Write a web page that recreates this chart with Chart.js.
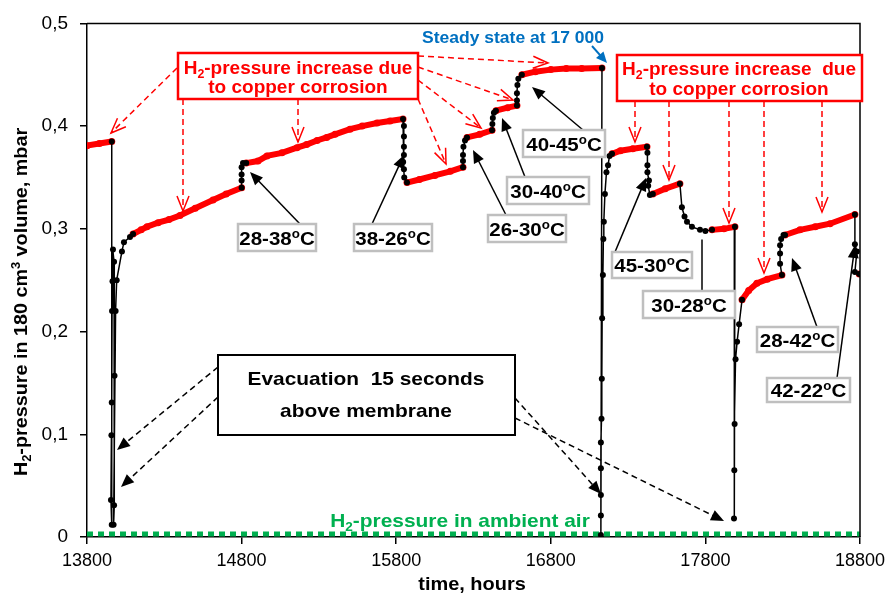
<!DOCTYPE html>
<html>
<head>
<meta charset="utf-8">
<script src="https://cdn.jsdelivr.net/npm/chart.js@4.4.1/dist/chart.umd.min.js"></script>
<style>
  html, body { margin: 0; padding: 0; background: #fff; }
  #wrap { width: 893px; height: 599px; }
</style>
</head>
<body>
<div id="wrap"><canvas id="chart" width="893" height="599"></canvas></div>
<script>
var FONT = '"Liberation Sans", Arial, sans-serif';

var xTicks = [13800, 14800, 15800, 16800, 17800, 18800];
var xTickLabels = ['13800', '14800', '15800', '16800', '17800', '18800'];
var yTicks = [0, 0.1, 0.2, 0.3, 0.4, 0.5];
var yTickLabels = ['0', '0,1', '0,2', '0,3', '0,4', '0,5'];

// red = pressure increase periods (copper corrosion), one sub-array per run
var redTime = [
  [13800, 13880, 13960],
  [14098, 14150, 14188, 14260, 14330, 14401, 14500, 14615, 14700, 14800],
  [14830, 14906, 14964, 15061, 15158, 15220, 15288, 15350, 15404, 15501, 15580, 15676, 15760, 15844],
  [15870, 15950, 16050, 16150, 16232],
  [16258, 16340, 16420],
  [16445, 16520, 16581],
  [16613, 16700, 16800, 16900, 17000, 17131],
  [17196, 17250, 17330, 17422],
  [17460, 17540, 17635],
  [17843, 17920, 17991],
  [18037, 18080, 18133, 18200, 18295],
  [18315, 18412, 18510, 18606, 18767],
  [18795]
];
var redPressure = [
  [0.381, 0.383, 0.385],
  [0.295, 0.299, 0.302, 0.306, 0.309, 0.313, 0.320, 0.328, 0.334, 0.340],
  [0.364, 0.366, 0.371, 0.374, 0.379, 0.382, 0.386, 0.389, 0.392, 0.397, 0.400, 0.403, 0.405, 0.407],
  [0.345, 0.348, 0.352, 0.356, 0.360],
  [0.389, 0.392, 0.396],
  [0.415, 0.418, 0.420],
  [0.450, 0.453, 0.455, 0.456, 0.456, 0.4565],
  [0.373, 0.376, 0.378, 0.380],
  [0.334, 0.339, 0.344],
  [0.299, 0.300, 0.302],
  [0.231, 0.240, 0.247, 0.251, 0.255],
  [0.294, 0.299, 0.302, 0.305, 0.314],
  [0.256]
];

// black = evacuations and temperature changes
var blackTime = [
  [13960, 13960, 13955, 13958, 13960, 13962, 13965, 13968, 13975, 13978, 13975, 13972, 13985, 13992, 14026, 14039, 14078, 14098],
  [14800, 14800, 14800, 14800, 14809, 14830],
  [15844, 15850, 15850, 15850, 15850, 15845, 15850, 15852, 15870],
  [16232, 16232, 16232, 16235, 16245, 16258],
  [16420, 16422, 16425, 16432, 16445],
  [16581, 16581, 16581, 16584, 16590, 16613],
  [17131, 17124, 17124, 17124, 17124, 17124, 17128, 17130, 17132, 17137, 17140, 17143, 17150, 17160, 17170, 17180, 17196],
  [17422, 17425, 17425, 17425, 17435, 17430, 17441, 17460],
  [17635, 17648, 17665, 17681, 17713, 17765, 17800, 17843],
  [17991, 17985, 17987, 17989, 17995, 18005, 18018, 18037],
  [18295, 18283, 18283, 18283, 18290, 18305, 18315],
  [18767, 18767, 18780, 18767, 18795]
];
var blackPressure = [
  [0.385, 0.012, 0.036, 0.099, 0.131, 0.22, 0.249, 0.28, 0.268, 0.157, 0.031, 0.012, 0.22, 0.25, 0.278, 0.287, 0.292, 0.295],
  [0.340, 0.347, 0.353, 0.360, 0.364, 0.364],
  [0.407, 0.400, 0.390, 0.380, 0.372, 0.365, 0.358, 0.350, 0.345],
  [0.360, 0.366, 0.372, 0.380, 0.386, 0.389],
  [0.396, 0.402, 0.408, 0.413, 0.415],
  [0.420, 0.425, 0.432, 0.440, 0.446, 0.450],
  [0.4565, 0.002, 0.021, 0.041, 0.067, 0.092, 0.115, 0.154, 0.213, 0.255, 0.29, 0.307, 0.334, 0.355, 0.362, 0.371, 0.373],
  [0.380, 0.374, 0.362, 0.355, 0.347, 0.342, 0.333, 0.334],
  [0.344, 0.321, 0.312, 0.307, 0.302, 0.299, 0.298, 0.299],
  [0.302, 0.018, 0.065, 0.110, 0.173, 0.19, 0.207, 0.231],
  [0.255, 0.266, 0.276, 0.284, 0.290, 0.294, 0.294],
  [0.314, 0.285, 0.278, 0.258, 0.256]
];

var ambientTime = [13800, 18800];
var ambientPressure = [0.003, 0.003];

// join sub-arrays with a gap point in between
function toPoints(times, values) {
  var out = [];
  times.forEach(function(seg, s) {
    if (s > 0) out.push({x: seg[0], y: null});
    seg.forEach(function(t, i) { out.push({x: t, y: values[s][i]}); });
  });
  return out;
}

function drawRich(ctx, parts, cx, base, size, color, sx) {
  ctx.save();
  ctx.translate(cx, base);
  ctx.scale(sx || 1, 1);
  var w = 0;
  parts.forEach(function(p) {
    ctx.font = 'bold ' + (p[1] ? size * 0.65 : size) + 'px ' + FONT;
    w += ctx.measureText(p[0]).width;
  });
  var x = -w / 2;
  ctx.fillStyle = color;
  ctx.textAlign = 'left';
  ctx.textBaseline = 'alphabetic';
  parts.forEach(function(p) {
    var s = p[1] ? size * 0.65 : size;
    ctx.font = 'bold ' + s + 'px ' + FONT;
    var dy = p[1] === 1 ? size * 0.22 : (p[1] === 2 ? -size * 0.36 : 0);
    ctx.fillText(p[0], x, dy);
    x += ctx.measureText(p[0]).width;
  });
  ctx.restore();
}

function arrow(ctx, x1, y1, x2, y2, o) {
  var a = Math.atan2(y2 - y1, x2 - x1);
  var L = o.head || 12, hw = o.hw || 5;
  ctx.save();
  ctx.strokeStyle = o.color;
  ctx.fillStyle = o.color;
  ctx.lineWidth = o.width || 1.5;
  ctx.setLineDash(o.dash || []);
  ctx.beginPath();
  ctx.moveTo(x1, y1);
  if (o.open) ctx.lineTo(x2, y2);
  else ctx.lineTo(x2 - Math.cos(a) * L * 0.8, y2 - Math.sin(a) * L * 0.8);
  ctx.stroke();
  ctx.setLineDash([]);
  if (o.head !== 0) {
    var bx = x2 - Math.cos(a) * L, by = y2 - Math.sin(a) * L;
    var px = -Math.sin(a) * hw, py = Math.cos(a) * hw;
    ctx.beginPath();
    ctx.moveTo(bx + px, by + py);
    ctx.lineTo(x2, y2);
    ctx.lineTo(bx - px, by - py);
    if (o.open) ctx.stroke(); else { ctx.closePath(); ctx.fill(); }
  }
  ctx.restore();
}

var RED_ARROW = {color: '#ff0000', dash: [6, 4], open: true, head: 15, hw: 6, width: 1.5};
var BLACK_ARROW = {color: '#000', head: 13, hw: 5.5, width: 1.5};
var DASH_ARROW = {color: '#000', dash: [6, 4], head: 13, hw: 5.5, width: 1.5};

var tempLabels = [
  {t: '28-38', box: [238, 224, 78, 27], from: [300, 224], to: [250, 172]},
  {t: '38-26', box: [354, 224, 78, 27], from: [372, 224], to: [404, 155]},
  {t: '26-30', box: [488, 215, 78, 27], from: [506, 215], to: [473, 150]},
  {t: '30-40', box: [507, 177, 82, 27], from: [525, 177], to: [502, 118]},
  {t: '40-45', box: [523, 130, 82, 27], from: [583, 130], to: [532, 87]},
  {t: '45-30', box: [612, 252, 80, 26], from: [615, 252], to: [646, 178]},
  {t: '30-28', box: [643, 291, 92, 27], from: [702, 291], to: [702, 230], plain: true},
  {t: '28-42', box: [757, 327, 81, 25], from: [817, 327], to: [792, 258]},
  {t: '42-22', box: [767, 378, 83, 24], from: [837, 378], to: [855, 245]}
];

var decor = {
  id: 'decor',
  afterDatasetsDraw: function(chart) {
    var ctx = chart.ctx, a = chart.chartArea;
    ctx.save();
    // frame top / right
    ctx.strokeStyle = '#000';
    ctx.lineWidth = 1.5;
    ctx.beginPath();
    ctx.moveTo(a.left, a.top);
    ctx.lineTo(a.right, a.top);
    ctx.lineTo(a.right, a.bottom);
    ctx.stroke();

    // red boxes
    ctx.strokeStyle = '#ff0000';
    ctx.lineWidth = 2.5;
    ctx.fillStyle = '#fff';
    ctx.fillRect(178, 53, 240, 46);
    ctx.strokeRect(178, 53, 240, 46);
    ctx.fillRect(617, 55, 245, 46);
    ctx.strokeRect(617, 55, 245, 46);
    drawRich(ctx, [['H', 0], ['2', 1], ['-pressure increase due', 0]], 298, 74, 19, '#ff0000');
    drawRich(ctx, [['to copper corrosion', 0]], 298, 93, 19, '#ff0000');
    drawRich(ctx, [['H', 0], ['2', 1], ['-pressure increase  due', 0]], 739, 75, 19, '#ff0000');
    drawRich(ctx, [['to copper corrosion', 0]], 739, 95, 19, '#ff0000');

    // red arrows
    [[177, 68, 111, 133], [183, 99, 183, 211], [298, 99, 298, 142],
     [418, 56, 548, 63], [418, 67, 513, 100], [418, 80, 481, 128], [418, 99, 446, 164],
     [635, 101, 635, 142], [669, 101, 669, 180], [729, 101, 729, 223],
     [764, 101, 764, 273], [822, 101, 822, 212]].forEach(function(r) {
      arrow(ctx, r[0], r[1], r[2], r[3], RED_ARROW);
    });

    // steady state
    drawRich(ctx, [['Steady state at 17 000', 0]], 513, 43, 17, '#0070c0', 1.03);
    arrow(ctx, 592, 46, 607, 63, {color: '#0070c0', head: 11, hw: 5, width: 2});

    // temperature labels
    tempLabels.forEach(function(l) {
      if (l.plain) arrow(ctx, l.from[0], l.from[1], l.to[0], l.to[1], {color: '#000', head: 0, width: 1.5});
      else arrow(ctx, l.from[0], l.from[1], l.to[0], l.to[1], BLACK_ARROW);
    });
    tempLabels.forEach(function(l) {
      var b = l.box;
      ctx.fillStyle = '#fff';
      ctx.fillRect(b[0], b[1], b[2], b[3]);
      ctx.strokeStyle = '#bfbfbf';
      ctx.lineWidth = 2.5;
      ctx.strokeRect(b[0], b[1], b[2], b[3]);
      drawRich(ctx, [[l.t, 0], ['o', 2], ['C', 0]], b[0] + b[2] / 2, b[1] + b[3] / 2 + 7, 19, '#000', 1.08);
    });

    // evacuation box
    arrow(ctx, 218, 367, 117, 450, DASH_ARROW);
    arrow(ctx, 218, 397, 121, 487, DASH_ARROW);
    arrow(ctx, 515, 398, 601, 494, DASH_ARROW);
    arrow(ctx, 515, 418, 724, 521, DASH_ARROW);
    ctx.fillStyle = '#fff';
    ctx.fillRect(218, 355, 297, 80);
    ctx.strokeStyle = '#000';
    ctx.lineWidth = 2;
    ctx.strokeRect(218, 355, 297, 80);
    drawRich(ctx, [['Evacuation  15 seconds', 0]], 366, 385, 19, '#000', 1.1);
    drawRich(ctx, [['above membrane', 0]], 366, 417, 19, '#000', 1.1);

    // ambient label
    drawRich(ctx, [['H', 0], ['2', 1], ['-pressure in ambient air', 0]], 460, 527, 19, '#00b050', 1.1);

    // axis titles
    drawRich(ctx, [['time, hours', 0]], 472, 590, 19, '#000', 1.05);
    ctx.save();
    ctx.translate(27, 302);
    ctx.rotate(-Math.PI / 2);
    drawRich(ctx, [['H', 0], ['2', 1], ['-pressure in 180 cm', 0], ['3', 2], [' volume, mbar', 0]], 0, 0, 19, '#000', 1.04);
    ctx.restore();
    ctx.restore();
  }
};

var tickFont = {family: FONT, size: 18};

new Chart(document.getElementById('chart'), {
  type: 'scatter',
  data: {
    datasets: [
      {
        label: 'temperature change / evacuation',
        data: toPoints(blackTime, blackPressure),
        showLine: true,
        borderColor: '#000',
        borderWidth: 1.5,
        pointRadius: 3,
        pointBackgroundColor: '#000',
        pointBorderWidth: 0,
        spanGaps: false
      },
      {
        label: 'H2-pressure increase',
        data: toPoints(redTime, redPressure),
        showLine: true,
        borderColor: '#ff0000',
        borderWidth: 6,
        pointRadius: 3.5,
        pointBackgroundColor: '#ff0000',
        pointBorderWidth: 0,
        spanGaps: false
      },
      {
        label: 'ambient air',
        data: toPoints([ambientTime], [ambientPressure]),
        showLine: true,
        borderColor: '#00b050',
        borderWidth: 5,
        borderDash: [6, 5],
        pointRadius: 0
      }
    ]
  },
  options: {
    responsive: false,
    animation: false,
    devicePixelRatio: 1,
    layout: {padding: {top: 20, right: 33, left: 0, bottom: 0}},
    plugins: {legend: {display: false}, tooltip: {enabled: false}},
    scales: {
      x: {
        type: 'linear',
        min: 13800,
        max: 18800,
        afterBuildTicks: function(s) { s.ticks = xTicks.map(function(v) { return {value: v}; }); },
        afterFit: function(s) { s.height = 62; },
        grid: {drawOnChartArea: false, drawTicks: true, tickLength: 7, color: '#000', lineWidth: 1.5},
        border: {color: '#000', width: 1.5},
        ticks: {
          color: '#000', font: tickFont, padding: 6, maxRotation: 0, autoSkip: false,
          callback: function(v, i) { return xTickLabels[i]; }
        }
      },
      y: {
        type: 'linear',
        min: 0,
        max: 0.5,
        afterBuildTicks: function(s) { s.ticks = yTicks.map(function(v) { return {value: v}; }); },
        afterFit: function(s) { s.width = 87; },
        grid: {drawOnChartArea: false, drawTicks: true, tickLength: 7, color: '#000', lineWidth: 1.5},
        border: {color: '#000', width: 1.5},
        ticks: {
          color: '#000', font: {family: FONT, size: 19}, padding: 12, autoSkip: false,
          callback: function(v, i) { return yTickLabels[i]; }
        }
      }
    }
  },
  plugins: [decor]
});
</script>
</body>
</html>
